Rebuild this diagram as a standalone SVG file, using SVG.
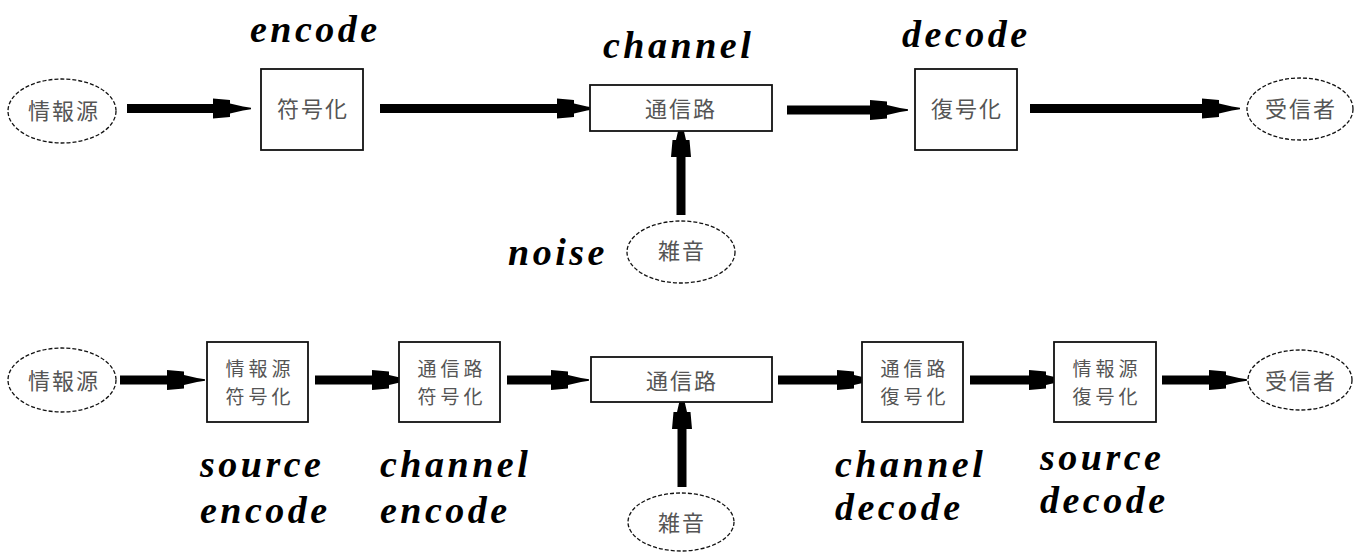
<svg xmlns="http://www.w3.org/2000/svg" width="1362" height="553" viewBox="0 0 1362 553">
<style>
.box{fill:#fff;stroke:#111;stroke-width:1.8}
.ell{fill:#fff;stroke:#111;stroke-width:1.3;stroke-dasharray:4 2}
.jp{font-family:"Noto Sans CJK JP","Noto Sans CJK SC",sans-serif;font-size:22px;fill:#555;text-anchor:middle;letter-spacing:2px}
.jp2{font-family:"Noto Sans CJK JP","Noto Sans CJK SC",sans-serif;font-size:19px;fill:#555;text-anchor:middle;letter-spacing:4px}
.lbl{font-family:"Liberation Serif","Times New Roman",serif;font-weight:bold;font-style:italic;font-size:38px;fill:#000;letter-spacing:3.5px}
.con{stroke:#000;stroke-width:9;fill:none}
</style>
<defs>
<marker id="ah" viewBox="0 -11 40 22" markerWidth="40" markerHeight="22" refX="0" refY="0" orient="auto" markerUnits="userSpaceOnUse">
<path d="M0,-10 L17,-8.5 L17,-5 L30,-2 L38,-0.8 L38,0.8 L30,2 L17,5 L17,8.5 L0,10 Z" fill="#000"/>
</marker>
</defs>
<rect width="1362" height="553" fill="#fff"/>
<g id="connectors">
<path class="con" d="M127,108.5 H213" marker-end="url(#ah)"/>
<path class="con" d="M380,108.5 H557" marker-end="url(#ah)"/>
<path class="con" d="M787,110 H870" marker-end="url(#ah)"/>
<path class="con" d="M1030,108.5 H1202" marker-end="url(#ah)"/>
<path class="con" d="M681,215 V157" marker-end="url(#ah)"/>
<path class="con" d="M120,380 H167" marker-end="url(#ah)"/>
<path class="con" d="M315,380 H372" marker-end="url(#ah)"/>
<path class="con" d="M507,380 H551" marker-end="url(#ah)"/>
<path class="con" d="M778,380 H837" marker-end="url(#ah)"/>
<path class="con" d="M970,380 H1029" marker-end="url(#ah)"/>
<path class="con" d="M1162,380 H1209" marker-end="url(#ah)"/>
<path class="con" d="M682,487 V429" marker-end="url(#ah)"/>
</g>
<g id="src1"><ellipse class="ell" cx="62" cy="111" rx="54" ry="32"/><text class="jp" x="64" y="119">情報源</text></g>
<g id="enc1"><rect class="box" x="261" y="69" width="102" height="81"/><text class="jp" x="313" y="117">符号化</text></g>
<g id="chan1"><rect class="box" x="590" y="85" width="182" height="46"/><text class="jp" x="681" y="117">通信路</text></g>
<g id="dec1"><rect class="box" x="915" y="69" width="102" height="81"/><text class="jp" x="967" y="117">復号化</text></g>
<g id="rcv1"><ellipse class="ell" cx="1300" cy="109" rx="53" ry="31"/><text class="jp" x="1301" y="117">受信者</text></g>
<g id="noise1"><ellipse class="ell" cx="681" cy="252" rx="54" ry="31"/><text class="jp" x="682" y="259">雑音</text></g>
<g id="labels-top">
<text class="lbl" x="250" y="42">encode</text>
<text class="lbl" x="603" y="58">channel</text>
<text class="lbl" x="902" y="47">decode</text>
<text class="lbl" x="508" y="265">noise</text>
</g>
<g id="src2"><ellipse class="ell" cx="62" cy="380" rx="54" ry="32"/><text class="jp" x="64" y="389">情報源</text></g>
<g id="senc"><rect class="box" x="207" y="342" width="101" height="80"/><text class="jp2" x="260" y="376">情報源<tspan x="260" y="404">符号化</tspan></text></g>
<g id="cenc"><rect class="box" x="399" y="342" width="101" height="80"/><text class="jp2" x="452" y="376">通信路<tspan x="452" y="404">符号化</tspan></text></g>
<g id="chan2"><rect class="box" x="591" y="357" width="181" height="45"/><text class="jp" x="682" y="389">通信路</text></g>
<g id="cdec"><rect class="box" x="862" y="342" width="101" height="80"/><text class="jp2" x="915" y="376">通信路<tspan x="915" y="404">復号化</tspan></text></g>
<g id="sdec"><rect class="box" x="1054" y="342" width="102" height="80"/><text class="jp2" x="1107" y="376">情報源<tspan x="1107" y="404">復号化</tspan></text></g>
<g id="rcv2"><ellipse class="ell" cx="1300" cy="380" rx="52" ry="30"/><text class="jp" x="1301" y="389">受信者</text></g>
<g id="noise2"><ellipse class="ell" cx="681" cy="522" rx="53" ry="29"/><text class="jp" x="682" y="531">雑音</text></g>
<g id="labels-bottom">
<text class="lbl" x="200" y="477">source</text>
<text class="lbl" x="200" y="523">encode</text>
<text class="lbl" x="380" y="477">channel</text>
<text class="lbl" x="380" y="523">encode</text>
<text class="lbl" x="835" y="477">channel</text>
<text class="lbl" x="835" y="520">decode</text>
<text class="lbl" x="1040" y="470">source</text>
<text class="lbl" x="1040" y="513">decode</text>
</g>
</svg>
